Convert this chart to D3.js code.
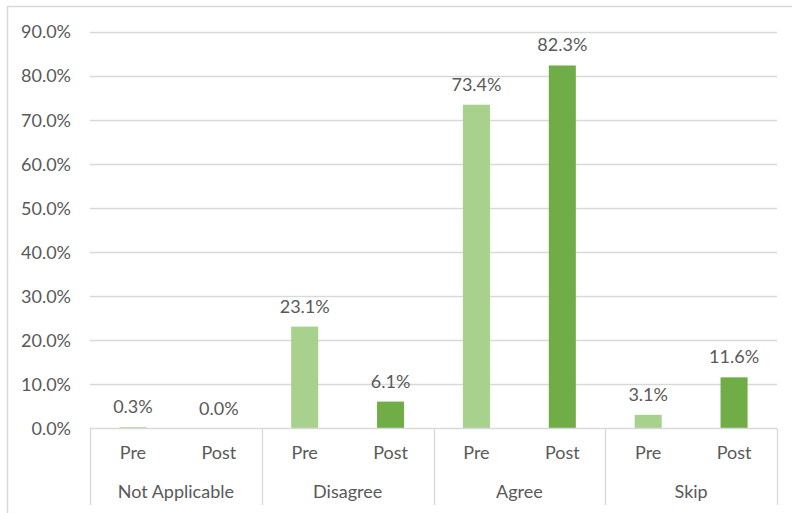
<!DOCTYPE html>
<html>
<head>
<meta charset="utf-8">
<script src="https://cdn.jsdelivr.net/npm/d3@7"></script>
<style>
  html, body { margin: 0; padding: 0; background: #fff; }
  svg { display: block; }
  text { font-family: Lato, "Open Sans", sans-serif; fill: #595959; }
</style>
</head>
<body>
<svg id="chart" width="792" height="513"></svg>
<script>
// Response categories and the two survey waves
const categories = ["Not Applicable", "Disagree", "Agree", "Skip"];
const waves = ["Pre", "Post"];
// Share of responses (%) per category, by wave
const preValues = [0.3, 23.1, 73.4, 3.1];
const postValues = [0.0, 6.1, 82.3, 11.6];
const yTicks = [0, 10, 20, 30, 40, 50, 60, 70, 80, 90];

const colors = { Pre: "#a9d18e", Post: "#70ad47" };
const FS = 18;

const svg = d3.select("#chart");
const W = 792, H = 513;
const m = { left: 90, right: 15, top: 31.5, bottom: 84.5 };
const plotRight = W - m.right;
const plotBottom = H - m.bottom;

// Outer chart frame
svg.append("rect")
  .attr("x", 7.5).attr("y", 6.5)
  .attr("width", W + 10).attr("height", H + 10)
  .attr("fill", "#fff").attr("stroke", "#d9d9d9").attr("stroke-width", 1.5);

const rows = categories.map((c, i) => ({ category: c, Pre: preValues[i], Post: postValues[i] }));

const x0 = d3.scaleBand().domain(categories).range([m.left, plotRight]).padding(0);
const x1 = d3.scaleBand().domain(waves).range([0, x0.bandwidth()]).padding(0);
const y = d3.scaleLinear().domain([0, 90]).range([plotBottom, m.top]);

const barW = x1.bandwidth() * 0.315;

// Gridlines
svg.append("g").selectAll("line").data(yTicks.filter(t => t > 0)).join("line")
  .attr("x1", m.left).attr("x2", plotRight)
  .attr("y1", d => Math.round(y(d)) + 0.5).attr("y2", d => Math.round(y(d)) + 0.5)
  .attr("stroke", "#d9d9d9").attr("stroke-width", 1.3);

// Y axis tick labels
const yAxis = d3.axisLeft(y).tickValues(yTicks).tickSize(0).tickPadding(0)
  .tickFormat(d => d3.format(".1f")(d) + "%");
svg.append("g").attr("transform", `translate(71,0)`).call(yAxis)
  .call(g => g.select(".domain").remove())
  .selectAll("text").attr("font-size", FS).attr("fill", "#595959")
  .style("font-family", "Lato, sans-serif").attr("dy", "0.35em");

// Bars
const groups = svg.append("g").selectAll("g").data(rows).join("g")
  .attr("transform", d => `translate(${x0(d.category)},0)`);

const cells = groups.selectAll("g").data(d => waves.map(w => ({ wave: w, value: d[w] }))).join("g");

cells.append("rect")
  .attr("x", d => x1(d.wave) + (x1.bandwidth() - barW) / 2)
  .attr("width", barW)
  .attr("y", d => y(d.value))
  .attr("height", d => y(0) - y(d.value))
  .attr("fill", d => colors[d.wave]);

// Value labels above bars
cells.append("text")
  .attr("x", d => x1(d.wave) + x1.bandwidth() / 2)
  .attr("y", d => y(d.value) - 14)
  .attr("text-anchor", "middle")
  .attr("font-size", FS)
  .text(d => d3.format(".1f")(d.value) + "%");

// Category axis: baseline, separators, two label rows
const axisG = svg.append("g");
axisG.append("line")
  .attr("x1", m.left).attr("x2", plotRight)
  .attr("y1", plotBottom).attr("y2", plotBottom)
  .attr("stroke", "#d9d9d9").attr("stroke-width", 1.3);

const seps = [m.left].concat(categories.map(c => x0(c) + x0.bandwidth()));
axisG.selectAll("line.sep").data(seps).join("line").attr("class", "sep")
  .attr("x1", d => Math.round(d) + 0.5).attr("x2", d => Math.round(d) + 0.5)
  .attr("y1", plotBottom).attr("y2", 505)
  .attr("stroke", "#d9d9d9").attr("stroke-width", 1.3);

groups.selectAll("text.wave").data(waves).join("text").attr("class", "wave")
  .attr("x", w => x1(w) + x1.bandwidth() / 2)
  .attr("y", 459)
  .attr("text-anchor", "middle")
  .attr("font-size", FS)
  .text(w => w);

groups.append("text")
  .attr("x", x0.bandwidth() / 2)
  .attr("y", 498)
  .attr("text-anchor", "middle")
  .attr("font-size", FS)
  .text(d => d.category);
</script>
</body>
</html>
